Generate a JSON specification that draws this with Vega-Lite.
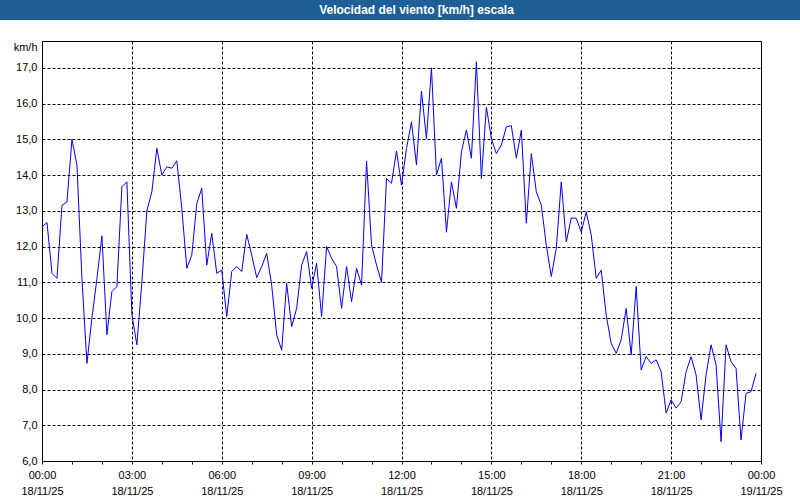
{
  "$schema": "https://vega.github.io/schema/vega-lite/v6.json",
  "padding": 0,
  "spacing": 20,
  "background": "#ffffff",
  "config": {
    "view": {"stroke": "#000000", "strokeWidth": 1},
    "font": "Liberation Sans"
  },
  "vconcat": [
    {
      "width": 759,
      "height": 20,
      "view": {"fill": "#1e5f97", "stroke": null},
      "data": {"values": [{"t": "Velocidad del viento [km/h] escala"}]},
      "mark": {"type": "text", "color": "#ffffff", "font": "Liberation Sans", "fontWeight": "bold", "fontSize": 12, "align": "center", "baseline": "middle", "dx": -5},
      "encoding": {
        "text": {"field": "t"},
        "y": {
          "datum": 0.5, "type": "quantitative",
          "scale": {"domain": [0, 1]},
          "axis": {"title": null, "labels": false, "ticks": false, "grid": false, "domain": true, "translate": 0, "domainColor": "#1e5f97", "domainWidth": 84, "domainCap": "butt"}
        }
      }
    },
    {
      "width": 719,
      "height": 420,
      "data": {"values": [
        {"t":"2025-11-18T00:00","v":12.55},{"t":"2025-11-18T00:10","v":12.67},{"t":"2025-11-18T00:20","v":11.25},{"t":"2025-11-18T00:30","v":11.11},{"t":"2025-11-18T00:40","v":13.15},{"t":"2025-11-18T00:50","v":13.25},
        {"t":"2025-11-18T01:00","v":15.0},{"t":"2025-11-18T01:10","v":14.28},{"t":"2025-11-18T01:20","v":11.1},{"t":"2025-11-18T01:30","v":8.73},{"t":"2025-11-18T01:40","v":10.0},{"t":"2025-11-18T01:50","v":11.1},
        {"t":"2025-11-18T02:00","v":12.3},{"t":"2025-11-18T02:10","v":9.53},{"t":"2025-11-18T02:20","v":10.74},{"t":"2025-11-18T02:30","v":10.88},{"t":"2025-11-18T02:40","v":13.67},{"t":"2025-11-18T02:50","v":13.81},
        {"t":"2025-11-18T03:00","v":10.1},{"t":"2025-11-18T03:10","v":9.25},{"t":"2025-11-18T03:20","v":11.0},{"t":"2025-11-18T03:30","v":13.0},{"t":"2025-11-18T03:40","v":13.53},{"t":"2025-11-18T03:50","v":14.75},
        {"t":"2025-11-18T04:00","v":14.0},{"t":"2025-11-18T04:10","v":14.23},{"t":"2025-11-18T04:20","v":14.19},{"t":"2025-11-18T04:30","v":14.4},{"t":"2025-11-18T04:40","v":13.07},{"t":"2025-11-18T04:50","v":11.39},
        {"t":"2025-11-18T05:00","v":11.76},{"t":"2025-11-18T05:10","v":13.2},{"t":"2025-11-18T05:20","v":13.63},{"t":"2025-11-18T05:30","v":11.48},{"t":"2025-11-18T05:40","v":12.37},{"t":"2025-11-18T05:50","v":11.25},
        {"t":"2025-11-18T06:00","v":11.34},{"t":"2025-11-18T06:10","v":10.04},{"t":"2025-11-18T06:20","v":11.3},{"t":"2025-11-18T06:30","v":11.44},{"t":"2025-11-18T06:40","v":11.3},{"t":"2025-11-18T06:50","v":12.34},
        {"t":"2025-11-18T07:00","v":11.76},{"t":"2025-11-18T07:10","v":11.13},{"t":"2025-11-18T07:20","v":11.44},{"t":"2025-11-18T07:30","v":11.81},{"t":"2025-11-18T07:40","v":10.92},{"t":"2025-11-18T07:50","v":9.53},
        {"t":"2025-11-18T08:00","v":9.1},{"t":"2025-11-18T08:10","v":10.97},{"t":"2025-11-18T08:20","v":9.76},{"t":"2025-11-18T08:30","v":10.27},{"t":"2025-11-18T08:40","v":11.48},{"t":"2025-11-18T08:50","v":11.86},
        {"t":"2025-11-18T09:00","v":10.83},{"t":"2025-11-18T09:10","v":11.53},{"t":"2025-11-18T09:20","v":10.04},{"t":"2025-11-18T09:30","v":12.0},{"t":"2025-11-18T09:40","v":11.67},{"t":"2025-11-18T09:50","v":11.44},
        {"t":"2025-11-18T10:00","v":10.27},{"t":"2025-11-18T10:10","v":11.44},{"t":"2025-11-18T10:20","v":10.46},{"t":"2025-11-18T10:30","v":11.39},{"t":"2025-11-18T10:40","v":10.92},{"t":"2025-11-18T10:50","v":14.39},
        {"t":"2025-11-18T11:00","v":12.04},{"t":"2025-11-18T11:10","v":11.48},{"t":"2025-11-18T11:20","v":11.0},{"t":"2025-11-18T11:30","v":13.9},{"t":"2025-11-18T11:40","v":13.77},{"t":"2025-11-18T11:50","v":14.67},
        {"t":"2025-11-18T12:00","v":13.72},{"t":"2025-11-18T12:10","v":14.74},{"t":"2025-11-18T12:20","v":15.49},{"t":"2025-11-18T12:30","v":14.28},{"t":"2025-11-18T12:40","v":16.35},{"t":"2025-11-18T12:50","v":15.02},
        {"t":"2025-11-18T13:00","v":17.0},{"t":"2025-11-18T13:10","v":14.0},{"t":"2025-11-18T13:20","v":14.47},{"t":"2025-11-18T13:30","v":12.4},{"t":"2025-11-18T13:40","v":13.81},{"t":"2025-11-18T13:50","v":13.07},
        {"t":"2025-11-18T14:00","v":14.65},{"t":"2025-11-18T14:10","v":15.26},{"t":"2025-11-18T14:20","v":14.47},{"t":"2025-11-18T14:30","v":17.17},{"t":"2025-11-18T14:40","v":13.9},{"t":"2025-11-18T14:50","v":15.9},
        {"t":"2025-11-18T15:00","v":15.02},{"t":"2025-11-18T15:10","v":14.6},{"t":"2025-11-18T15:20","v":14.84},{"t":"2025-11-18T15:30","v":15.35},{"t":"2025-11-18T15:40","v":15.38},{"t":"2025-11-18T15:50","v":14.47},
        {"t":"2025-11-18T16:00","v":15.26},{"t":"2025-11-18T16:10","v":12.65},{"t":"2025-11-18T16:20","v":14.6},{"t":"2025-11-18T16:30","v":13.53},{"t":"2025-11-18T16:40","v":13.16},{"t":"2025-11-18T16:50","v":12.04},
        {"t":"2025-11-18T17:00","v":11.16},{"t":"2025-11-18T17:10","v":11.95},{"t":"2025-11-18T17:20","v":13.81},{"t":"2025-11-18T17:30","v":12.13},{"t":"2025-11-18T17:40","v":12.8},{"t":"2025-11-18T17:50","v":12.79},
        {"t":"2025-11-18T18:00","v":12.41},{"t":"2025-11-18T18:10","v":12.97},{"t":"2025-11-18T18:20","v":12.32},{"t":"2025-11-18T18:30","v":11.11},{"t":"2025-11-18T18:40","v":11.34},{"t":"2025-11-18T18:50","v":10.08},
        {"t":"2025-11-18T19:00","v":9.29},{"t":"2025-11-18T19:10","v":9.01},{"t":"2025-11-18T19:20","v":9.39},{"t":"2025-11-18T19:30","v":10.27},{"t":"2025-11-18T19:40","v":8.97},{"t":"2025-11-18T19:50","v":10.88},
        {"t":"2025-11-18T20:00","v":8.55},{"t":"2025-11-18T20:10","v":8.92},{"t":"2025-11-18T20:20","v":8.73},{"t":"2025-11-18T20:30","v":8.83},{"t":"2025-11-18T20:40","v":8.5},{"t":"2025-11-18T20:50","v":7.34},
        {"t":"2025-11-18T21:00","v":7.71},{"t":"2025-11-18T21:10","v":7.48},{"t":"2025-11-18T21:20","v":7.66},{"t":"2025-11-18T21:30","v":8.5},{"t":"2025-11-18T21:40","v":8.92},{"t":"2025-11-18T21:50","v":8.41},
        {"t":"2025-11-18T22:00","v":7.15},{"t":"2025-11-18T22:10","v":8.41},{"t":"2025-11-18T22:20","v":9.25},{"t":"2025-11-18T22:30","v":8.69},{"t":"2025-11-18T22:40","v":6.54},{"t":"2025-11-18T22:50","v":9.25},
        {"t":"2025-11-18T23:00","v":8.78},{"t":"2025-11-18T23:10","v":8.59},{"t":"2025-11-18T23:20","v":6.59},{"t":"2025-11-18T23:30","v":7.89},{"t":"2025-11-18T23:40","v":7.94},{"t":"2025-11-18T23:50","v":8.45}
      ]},
      "mark": {"type": "line", "color": "#0000ff", "strokeWidth": 1, "clip": true},
      "encoding": {
        "x": {
          "field": "t", "type": "temporal",
          "scale": {"domain": [{"year": 2025, "month": 11, "date": 18, "hours": 0}, {"year": 2025, "month": 11, "date": 19, "hours": 0}], "nice": false},
          "axis": {
            "title": null,
            "domain": false,
            "values": [
              {"year": 2025, "month": 11, "date": 18, "hours": 0},{"year": 2025, "month": 11, "date": 18, "hours": 1},{"year": 2025, "month": 11, "date": 18, "hours": 2},
              {"year": 2025, "month": 11, "date": 18, "hours": 3},{"year": 2025, "month": 11, "date": 18, "hours": 4},{"year": 2025, "month": 11, "date": 18, "hours": 5},
              {"year": 2025, "month": 11, "date": 18, "hours": 6},{"year": 2025, "month": 11, "date": 18, "hours": 7},{"year": 2025, "month": 11, "date": 18, "hours": 8},
              {"year": 2025, "month": 11, "date": 18, "hours": 9},{"year": 2025, "month": 11, "date": 18, "hours": 10},{"year": 2025, "month": 11, "date": 18, "hours": 11},
              {"year": 2025, "month": 11, "date": 18, "hours": 12},{"year": 2025, "month": 11, "date": 18, "hours": 13},{"year": 2025, "month": 11, "date": 18, "hours": 14},
              {"year": 2025, "month": 11, "date": 18, "hours": 15},{"year": 2025, "month": 11, "date": 18, "hours": 16},{"year": 2025, "month": 11, "date": 18, "hours": 17},
              {"year": 2025, "month": 11, "date": 18, "hours": 18},{"year": 2025, "month": 11, "date": 18, "hours": 19},{"year": 2025, "month": 11, "date": 18, "hours": 20},
              {"year": 2025, "month": 11, "date": 18, "hours": 21},{"year": 2025, "month": 11, "date": 18, "hours": 22},{"year": 2025, "month": 11, "date": 18, "hours": 23},
              {"year": 2025, "month": 11, "date": 19, "hours": 0}
            ],
            "labelExpr": "hours(datum.value) % 3 == 0 ? [timeFormat(datum.value, '%H:%M'), timeFormat(datum.value, '%d/%m/%y')] : ''",
            "labelFlush": false,
            "labelOverlap": false,
            "labelFont": "Liberation Sans",
            "labelFontSize": 11,
            "labelColor": "#000000",
            "labelLineHeight": 16,
            "labelPadding": 5,
            "labelBaseline": "top",
            "labelAngle": 0,
            "ticks": true,
            "tickSize": 3,
            "tickColor": "#000000",
            "tickWidth": 1,
            "grid": true,
            "gridColor": "#000000",
            "gridDash": [3, 2],
            "gridWidth": 1,
            "gridOpacity": {"condition": {"test": "hours(datum.value) % 3 != 0", "value": 0}, "value": 1}
          }
        },
        "y": {
          "field": "v", "type": "quantitative",
          "scale": {"domain": [6, 17.75], "nice": false, "zero": false},
          "axis": {
            "title": "km/h",
            "titleAngle": 0,
            "titleAlign": "right",
            "titleBaseline": "middle",
            "titleX": -5,
            "titleY": 6,
            "titleFont": "Liberation Sans",
            "titleFontSize": 11,
            "titleFontWeight": "normal",
            "titleColor": "#000000",
            "domain": false,
            "ticks": false,
            "values": [6, 7, 8, 9, 10, 11, 12, 13, 14, 15, 16, 17],
            "labelExpr": "replace(format(datum.value, '.1f'), '.', ',')",
            "labelFont": "Liberation Sans",
            "labelFontSize": 11,
            "labelColor": "#000000",
            "labelPadding": 5,
            "minExtent": 41,
            "maxExtent": 41,
            "grid": true,
            "gridColor": "#000000",
            "gridDash": [3, 2],
            "gridWidth": 1
          }
        }
      }
    }
  ]
}
